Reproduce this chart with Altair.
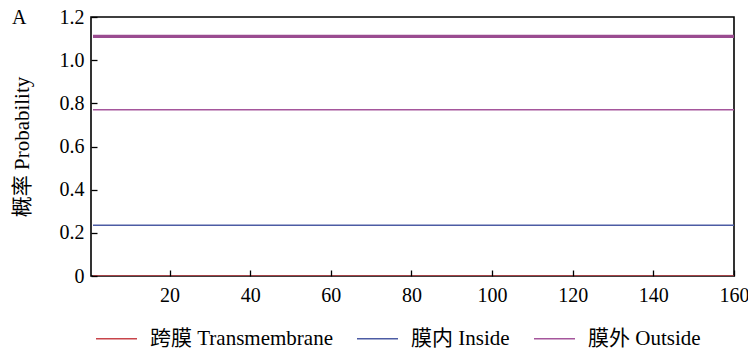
import altair as alt
import pandas as pd

# Residue positions along the sequence
positions = list(range(1, 161))

# Per-residue posterior probabilities
transmembrane = [0.0] * 160
inside = [0.235] * 160
outside = [0.77] * 160
# Predicted topology track (whole chain lies outside)
topology_outside = [1.11] * 160

series_names = ["跨膜 Transmembrane", "膜内 Inside", "膜外 Outside"]
series_colors = ["#c8444a", "#4c5ca4", "#a5569c"]

x_ticks = [20, 40, 60, 80, 100, 120, 140, 160]
y_ticks = [0, 0.2, 0.4, 0.6, 0.8, 1.0, 1.2]

SERIF = "'Liberation Serif', 'Noto Sans CJK SC', serif"

prob = pd.DataFrame({
    "pos": positions * 3,
    "prob": transmembrane + inside + outside,
    "series": [series_names[0]] * 160 + [series_names[1]] * 160 + [series_names[2]] * 160,
})
topo = pd.DataFrame({"pos": positions, "prob": topology_outside, "series": [series_names[2]] * 160})

x_enc = alt.X(
    "pos:Q",
    scale=alt.Scale(domain=[0.5, 160], nice=False, zero=False),
    axis=alt.Axis(
        values=x_ticks, title=None, offset=-6, tickSize=6, domain=False, grid=False,
        labelPadding=9, labelFlush=False, zindex=1,
        labelFont=SERIF, labelFontSize=20, labelColor="#000", tickColor="#000", tickWidth=1.3,
    ),
)
y_enc = alt.Y(
    "prob:Q",
    scale=alt.Scale(domain=[0, 1.2], nice=False),
    axis=alt.Axis(
        values=y_ticks, title="概率 Probability", offset=-6, tickSize=6, domain=False,
        grid=False, labelPadding=7, titlePadding=27, zindex=1,
        labelExpr="datum.value == 0 ? '0' : format(datum.value, '.1f')",
        labelFont=SERIF, labelFontSize=20, labelColor="#000", tickColor="#000", tickWidth=1.3,
        titleFont=SERIF, titleFontSize=21, titleColor="#000", titleFontWeight="normal",
    ),
)
color_enc = alt.Color(
    "series:N",
    scale=alt.Scale(domain=series_names, range=series_colors),
    legend=alt.Legend(
        title=None, orient="none", direction="horizontal", legendX=4, legendY=300,
        symbolType="stroke", symbolSize=1681, symbolStrokeWidth=1.6,
        labelOffset=12, columnPadding=20, labelFontSize=21, labelFont=SERIF,
        labelColor="#000", labelLimit=400,
    ),
)

lines = alt.Chart(prob).mark_line(strokeWidth=1.6, clip=True).encode(
    x=x_enc, y=y_enc, color=color_enc,
)
topo_line = alt.Chart(topo).mark_line(strokeWidth=3.2, clip=True, color="#9a4c90").encode(
    x="pos:Q", y="prob:Q",
)

chart = (
    alt.layer(lines, topo_line)
    .properties(
        width=643, height=259,
        autosize=alt.AutoSizeParams(type="none"),
        padding={"left": 91, "top": 17, "right": 14, "bottom": 73},
        background="white",
        title=alt.TitleParams(
            "A", anchor="start", frame="group", dx=-79, dy=37, offset=0,
            baseline="alphabetic", fontSize=20, fontWeight="normal", font=SERIF,
            color="#000",
        ),
    )
    .configure_view(stroke="#000", strokeWidth=1.6)
    .configure_axis(labelFont=SERIF, titleFont=SERIF)
    .configure_legend(labelFont=SERIF)
    .configure_title(font=SERIF)
)

chart.save("out.html", embed_options={"renderer": "svg", "actions": False})
